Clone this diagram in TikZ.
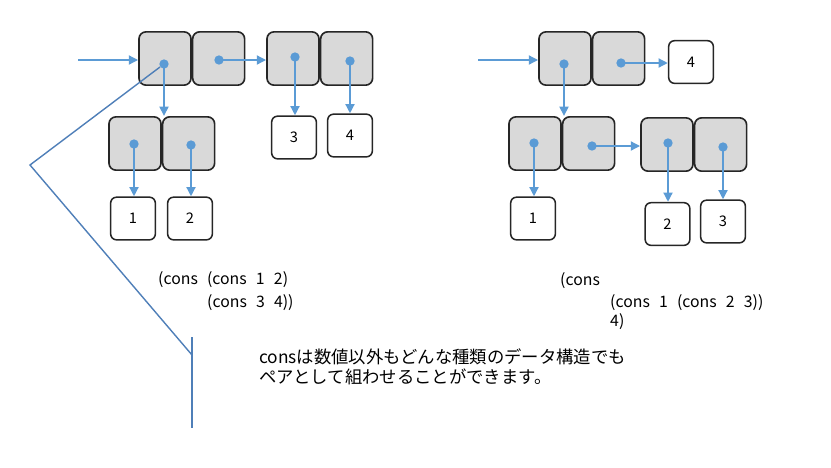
\documentclass[tikz,border=0pt]{standalone}
\usepackage{fontspec}
\setmainfont{Noto Sans CJK JP}
\newfontfamily\jpfont{Noto Sans CJK JP}
\newfontfamily\codefont[WordSpace=2.6]{Noto Sans CJK JP}
\usetikzlibrary{arrows.meta, positioning, calc}
\definecolor{ptrblue}{HTML}{5B9BD5}
\definecolor{noteblue}{HTML}{4F7FB8}
\definecolor{cellgray}{HTML}{D9D9D9}

\begin{document}
\begin{tikzpicture}[
    x=0.03cm, y=-0.03cm,
    >={Triangle[length=8pt, width=7.5pt]},
    cell/.style={draw=black!85, rounded corners=6pt, fill=cellgray, line width=1.4pt, minimum width=1.56cm, minimum height=1.6cm, inner sep=0pt},
    valbox/.style={draw=black!85, rounded corners=5pt, fill=white, line width=1.3pt, minimum width=1.34cm, minimum height=1.28cm, inner sep=0pt, font=\fontsize{12.5pt}{14pt}\selectfont},
    dot/.style={circle, fill=ptrblue, minimum size=2.8mm, inner sep=0pt},
    ptr/.style={->, line width=2pt, ptrblue},
    callout/.style={line width=1.2pt, noteblue},
    codetext/.style={anchor=west, inner sep=0pt, font=\codefont\fontsize{13.5pt}{15pt}\selectfont},
    notetext/.style={anchor=west, inner sep=0pt, align=left, font=\jpfont\fontsize{14.8pt}{17pt}\selectfont}
]
    \useasboundingbox (0,0) rectangle (831,467);

    % left: (cons (cons 1 2) (cons 3 4))
    \node[cell] (lc1) at (165,58.5) {};
    \node[cell] (lc2) [right=0pt of lc1] {};
    \node[cell] (lc3) at (293,58.5) {};
    \node[cell] (lc4) [right=0pt of lc3] {};
    \node[cell] (lb1) at (135,143.5) {};
    \node[cell] (lb2) [right=0pt of lb1] {};

    \node[valbox] (lv1) at (133,218.5) {1};
    \node[valbox] (lv2) at (190,218.5) {2};
    \node[valbox] (lv3) at (294,137.5) {3};
    \node[valbox] (lv4) at (350,135.5) {4};

    \node[dot] (ld1) at (164,64) {};
    \node[dot] (ld2) at (219,60) {};
    \node[dot] (ld3) at (295,57) {};
    \node[dot] (ld4) at (350,61) {};
    \node[dot] (ld5) at (134,144) {};
    \node[dot] (ld6) at (191,145) {};

    \coordinate (lin) at (78,60);
    \draw[ptr] (lin) -- (lin -| lc1.west);
    \draw[ptr] (ld2.center) -- (ld2 -| lc3.west);
    \draw[ptr] (ld1.center) -- (ld1 |- lb1.north);
    \draw[ptr] (ld3.center) -- (ld3 |- lv3.north);
    \draw[ptr] (ld4.center) -- (ld4 |- lv4.north);
    \draw[ptr] (ld5.center) -- (ld5 |- lv1.north);
    \draw[ptr] (ld6.center) -- (ld6 |- lv2.north);

    % right: (cons (cons 1 (cons 2 3)) 4)
    \node[cell] (rc1) at (565,58.5) {};
    \node[cell] (rc2) [right=0pt of rc1] {};
    \node[cell] (rb1) at (535,143.5) {};
    \node[cell] (rb2) [right=0pt of rb1] {};
    \node[cell] (rb3) at (667,144.5) {};
    \node[cell] (rb4) [right=0pt of rb3] {};

    \node[valbox] (rv4) at (691,62) {4};
    \node[valbox] (rv1) at (533,218.5) {1};
    \node[valbox] (rv2) at (667.5,224) {2};
    \node[valbox] (rv3) at (723,221.5) {3};

    \node[dot] (rd1) at (564,64) {};
    \node[dot] (rd2) at (621,63) {};
    \node[dot] (rd3) at (534,143) {};
    \node[dot] (rd4) at (592,146) {};
    \node[dot] (rd5) at (668,143) {};
    \node[dot] (rd6) at (723,147) {};

    \coordinate (rin) at (478,60);
    \draw[ptr] (rin) -- (rin -| rc1.west);
    \draw[ptr] (rd2.center) -- (rd2 -| rv4.west);
    \draw[ptr] (rd1.center) -- (rd1 |- rb1.north);
    \draw[ptr] (rd4.center) -- (rd4 -| rb3.west);
    \draw[ptr] (rd3.center) -- (rd3 |- rv1.north);
    \draw[ptr] (rd5.center) -- (rd5 |- rv2.north);
    \draw[ptr] (rd6.center) -- (rd6 |- rv3.north);

    % code
    \node[codetext] (lcode1) at (158,280) {(cons (cons 1 2)};
    \node[codetext] (lcode2) at (207,303) {(cons 3 4))};
    \node[codetext] (rcode1) at (560,281) {(cons};
    \node[codetext] (rcode2) at (610,303) {(cons 1 (cons 2 3))};
    \node[codetext] (rcode3) at (610,322) {4)};

    % callout
    \coordinate (cl_tip) at (160,67);
    \coordinate (cl_knee) at (30,165);
    \coordinate (cl_end) at (192,355);
    \coordinate (cl_top) at (192,337);
    \coordinate (cl_bot) at (192,428);
    \draw[callout] (cl_tip) -- (cl_knee) -- (cl_end);
    \draw[callout] (cl_top) -- (cl_bot);

    \node[notetext] (note) at (259,366.5) {consは数値以外もどんな種類のデータ構造でも\\ペアとして組わせることができます。};
\end{tikzpicture}
\end{document}
